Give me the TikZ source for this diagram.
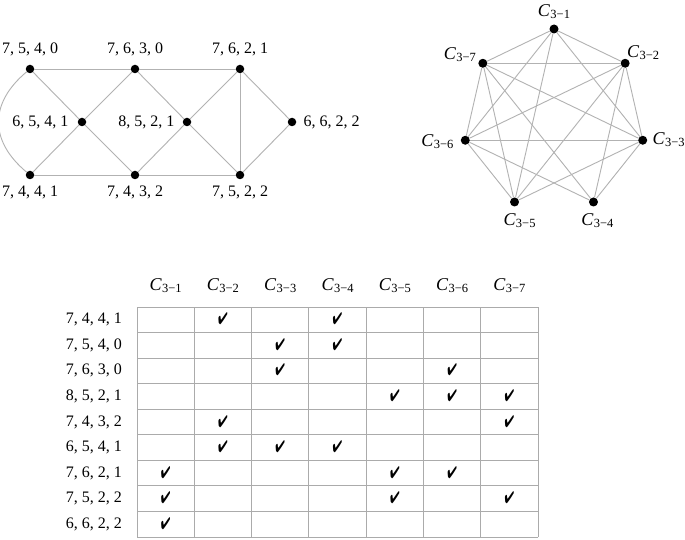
\documentclass[tikz,border=0pt]{standalone}
\usepackage{fontspec}
\setmainfont{Liberation Serif}
\usepackage{pifont}
\usepackage{graphicx}
\newcommand\cthree[1]{{\fontsize{18}{20}\selectfont\textit{C}\kern0.3pt\raisebox{-2.2pt}{\fontsize{12.5}{14}\selectfont 3−#1}}}
\begin{document}
\begin{tikzpicture}[x=1pt,y=1pt,
  dot/.style={circle,fill=black,inner sep=0pt,minimum size=8.5pt},
  bigdot/.style={circle,fill=black,inner sep=0pt,minimum size=9pt},
  edge/.style={draw=black!30,line width=0.9pt},
  lbl/.style={font=\fontsize{16}{19}\selectfont,inner sep=0pt},
  gridline/.style={draw=black!33,line width=0.9pt},
  chk/.style={font=\fontsize{12}{14}\selectfont,inner sep=0pt}]
\fill[white] (0,0) rectangle (685,539);
\useasboundingbox (0,0) rectangle (685,539);

% ---------- left graph ----------
\node[dot,label={[lbl,label distance=8pt]above:{7, 5, 4, 0}}] (a7540) at (30,470) {};
\node[dot,label={[lbl,label distance=8pt]above:{7, 6, 3, 0}}] (a7630) at (135,470) {};
\node[dot,label={[lbl,label distance=8pt]above:{7, 6, 2, 1}}] (a7621) at (240,470) {};
\node[dot,label={[lbl,label distance=9pt]left:{6, 5, 4, 1}}] (a6541) at (82,417) {};
\node[dot,label={[lbl,label distance=8pt]left:{8, 5, 2, 1}}] (a8521) at (187,417) {};
\node[dot,label={[lbl,label distance=7pt]right:{6, 6, 2, 2}}] (a6622) at (292,417) {};
\node[dot,label={[lbl,label distance=6pt]below:{7, 4, 4, 1}}] (a7441) at (30,364) {};
\node[dot,label={[lbl,label distance=6pt]below:{7, 4, 3, 2}}] (a7432) at (135,364) {};
\node[dot,label={[lbl,label distance=6pt]below:{7, 5, 2, 2}}] (a7522) at (240,364) {};

\draw[edge] (a7540) -- (a7630);
\draw[edge] (a7630) -- (a7621);
\draw[edge] (a7441) -- (a7432);
\draw[edge] (a7432) -- (a7522);
\draw[edge] (a7540) -- (a6541);
\draw[edge] (a6541) -- (a7630);
\draw[edge] (a6541) -- (a7441);
\draw[edge] (a6541) -- (a7432);
\draw[edge] (a7630) -- (a8521);
\draw[edge] (a8521) -- (a7621);
\draw[edge] (a8521) -- (a7432);
\draw[edge] (a8521) -- (a7522);
\draw[edge] (a7621) -- (a7522);
\draw[edge] (a7621) -- (a6622);
\draw[edge] (a6622) -- (a7522);
\draw[edge] (a7540) to[out=220,in=140,looseness=1.25] (a7441);

% ---------- right graph ----------
\begin{scope}[shift={(554,419)}]
\node[bigdot,label={[lbl,xshift=0pt,yshift=17pt]center:{\cthree{1}}}] (c1) at (90:91) {};
\node[bigdot,label={[lbl,xshift=18pt,yshift=11pt]center:{\cthree{2}}}] (c2) at (38.57:91) {};
\node[bigdot,label={[lbl,xshift=26pt,yshift=1pt]center:{\cthree{3}}}] (c3) at (-12.86:91) {};
\node[bigdot,label={[lbl,xshift=4pt,yshift=-19pt]center:{\cthree{4}}}] (c4) at (-64.29:91) {};
\node[bigdot,label={[lbl,xshift=5pt,yshift=-19pt]center:{\cthree{5}}}] (c5) at (-115.71:91) {};
\node[bigdot,label={[lbl,xshift=-28pt,yshift=-1pt]center:{\cthree{6}}}] (c6) at (192.86:91) {};
\node[bigdot,label={[lbl,xshift=-23pt,yshift=9pt]center:{\cthree{7}}}] (c7) at (141.43:91) {};
\end{scope}
\foreach \i/\j in {1/2,1/3,1/5,1/6,1/7,2/3,2/4,2/5,2/6,2/7,3/4,3/5,3/6,3/7,4/6,4/7,5/6,5/7,6/7}
  \draw[edge] (c\i) -- (c\j);

% ---------- table ----------
\foreach \i in {0,...,7}
  \draw[gridline] (137+57.3*\i,2) -- (137+57.3*\i,232);
\foreach \j in {0,...,9}
  \draw[gridline] (137,2+25.556*\j) -- (538.1,2+25.556*\j);
\foreach \i in {1,...,7}
  \node[lbl] (h\i) at (137+57.3*\i-28.65,253) {\cthree{\i}};
\foreach \r/\t in {1/{7, 4, 4, 1},2/{7, 5, 4, 0},3/{7, 6, 3, 0},4/{8, 5, 2, 1},5/{7, 4, 3, 2},6/{6, 5, 4, 1},7/{7, 6, 2, 1},8/{7, 5, 2, 2},9/{6, 6, 2, 2}}
  \node[lbl,anchor=east] (r\r) at (122,232-25.556*\r+12.778) {\t};
\foreach \r/\c in {1/2,1/4,2/3,2/4,3/3,3/6,4/5,4/6,4/7,5/2,5/7,6/2,6/3,6/4,7/1,7/5,7/6,8/1,8/5,8/7,9/1}
  \node[chk] (k\r\c) at (137+57.3*\c-28.65,232-25.556*\r+13.5) {\scalebox{0.95}[1.4]{\ding{52}}};
\end{tikzpicture}
\end{document}
